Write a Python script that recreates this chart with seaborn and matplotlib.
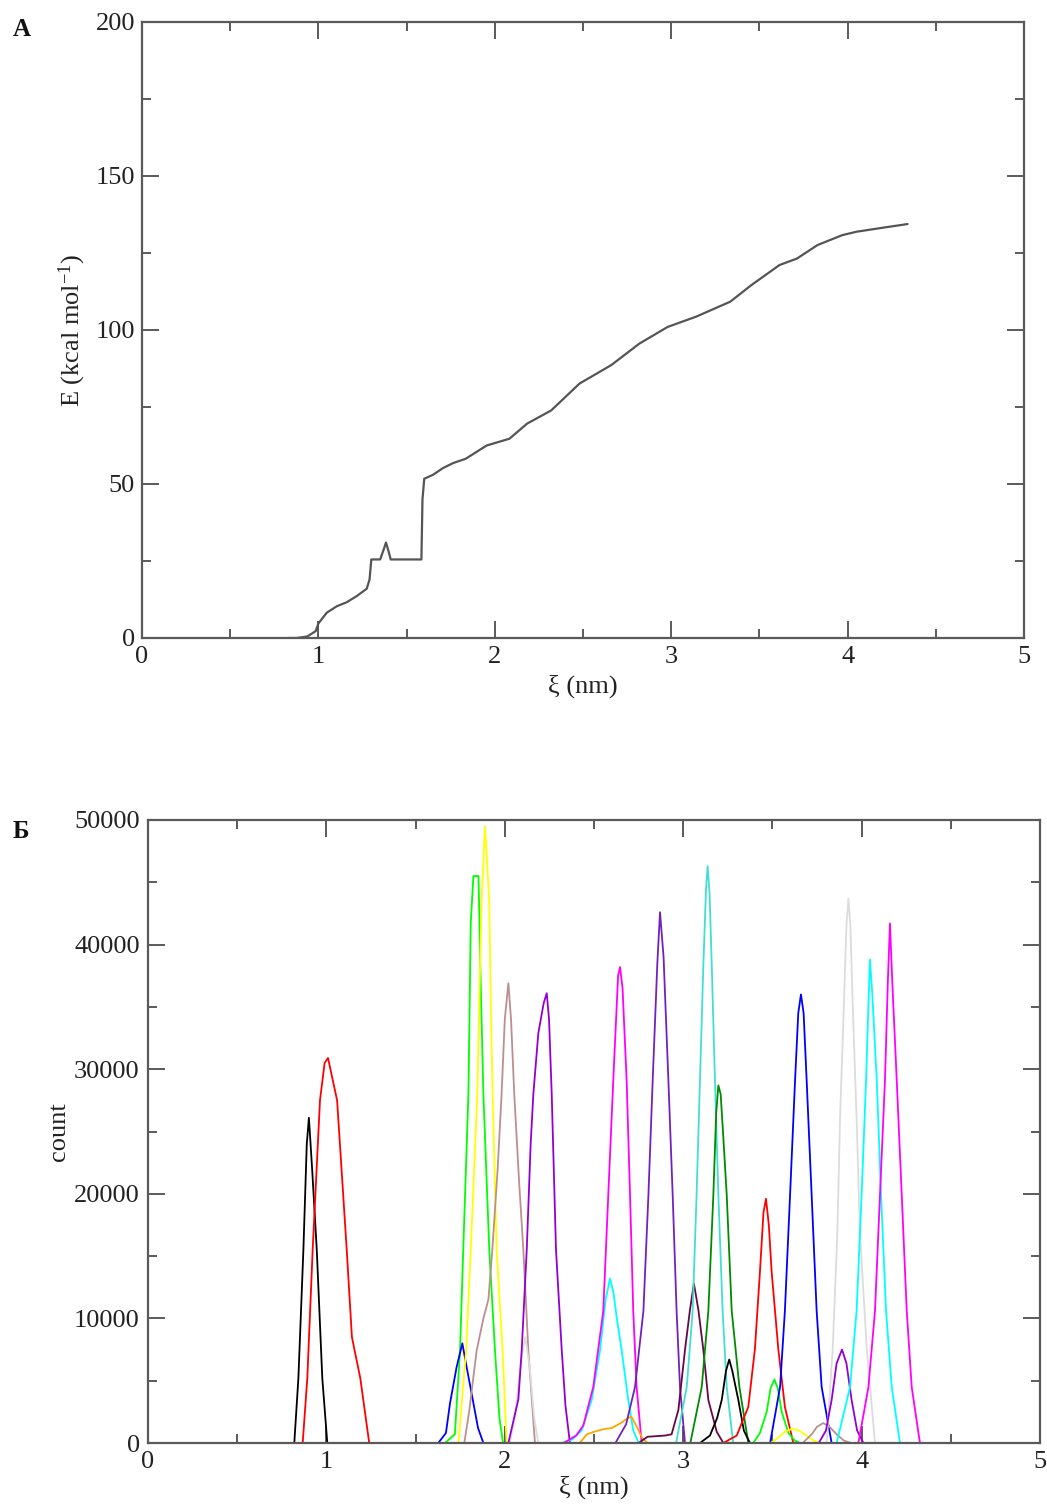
import matplotlib
matplotlib.use("Agg")
import matplotlib.pyplot as plt
import seaborn as sns
import pandas as pd
from matplotlib.ticker import MultipleLocator

# ---------------- Panel A: energy profile ----------------
xi_A = [0.83, 0.877, 0.937, 0.984, 1.0, 1.047, 1.104, 1.16, 1.217, 1.274, 1.29, 1.30,
        1.35, 1.37, 1.383, 1.395, 1.41, 1.584, 1.59, 1.60, 1.65, 1.707, 1.764, 1.835,
        1.954, 2.083, 2.183, 2.32, 2.48, 2.66, 2.82, 2.98, 3.14, 3.335, 3.455, 3.614,
        3.713, 3.83, 3.97, 4.05, 4.21, 4.34]
E_A = [0, 0, 0.5, 2.2, 4.7, 8.2, 10.3, 11.6, 13.6, 16, 19, 25.5,
       25.5, 28.7, 31, 28.7, 25.5, 25.5, 45, 51.7, 53, 55.2, 56.8, 58.2,
       62.5, 64.7, 69.6, 73.9, 82.6, 88.6, 95.6, 101, 104.3, 109.2, 114.6, 121.1,
       123.2, 127.6, 130.8, 131.9, 133.3, 134.4]

# ---------------- Panel B: umbrella histograms ----------------
black1_xi = [0.82, 0.843, 0.871, 0.89, 0.902, 0.92, 0.946, 0.977, 1.005]
black1_n = [0, 5200, 15500, 24000, 26100, 22000, 15500, 5200, 0]
red1_xi = [0.867, 0.893, 0.923, 0.964, 0.99, 1.009, 1.03, 1.06, 1.114, 1.143, 1.17, 1.19, 1.24]
red1_n = [0, 5200, 15500, 27500, 30500, 30900, 29500, 27500, 15500, 8500, 6600, 5200, 0]
green1_xi = [1.665, 1.72, 1.749, 1.767, 1.796, 1.801, 1.809, 1.824, 1.852, 1.858, 1.862,
             1.88, 1.913, 1.945, 1.97, 1.99]
green1_n = [0, 700, 7400, 15500, 28000, 33000, 41700, 45500, 45500, 42000, 38700,
            28000, 15500, 7400, 2000, 0]
blue1_xi = [1.627, 1.67, 1.693, 1.73, 1.762, 1.786, 1.824, 1.85, 1.88]
blue1_n = [0, 800, 3200, 6100, 8000, 6100, 3200, 1200, 0]
yellow1_xi = [1.74, 1.783, 1.809, 1.846, 1.857, 1.87, 1.889, 1.913, 1.921, 1.932, 1.954, 1.988, 2.01]
yellow1_n = [0, 7400, 15500, 28000, 35500, 43500, 49500, 43500, 35500, 28000, 15500, 7400, 0]
brown1_xi = [1.773, 1.80, 1.842, 1.88, 1.908, 1.93, 1.96, 1.982, 2.0, 2.02, 2.035,
             2.053, 2.08, 2.104, 2.132, 2.169]
brown1_n = [0, 2500, 7400, 10000, 11500, 15500, 22000, 28000, 34000, 36900, 34000,
            28000, 21000, 15500, 7400, 0]
grey1_xi = [2.029, 2.06, 2.09, 2.115, 2.14, 2.165, 2.188]
grey1_n = [0, 2500, 6500, 8500, 6000, 2000, 0]
violet1_xi = [2.02, 2.076, 2.095, 2.123, 2.145, 2.16, 2.188, 2.218, 2.235, 2.248, 2.263,
              2.287, 2.319, 2.34, 2.365]
violet1_n = [0, 3500, 7500, 15500, 24000, 28000, 32900, 35300, 36100, 34000, 28000,
             15500, 7500, 3000, 0]
cyan1_xi = [2.32, 2.38, 2.431, 2.487, 2.534, 2.565, 2.59, 2.61, 2.627, 2.655, 2.692, 2.72, 2.75]
cyan1_n = [0, 300, 1000, 3450, 7460, 11500, 13200, 12000, 10100, 7460, 3450, 1000, 0]
magenta1_xi = [2.33, 2.40, 2.44, 2.496, 2.552, 2.58, 2.608, 2.635, 2.646, 2.66, 2.683,
               2.702, 2.72, 2.739, 2.767]
magenta1_n = [0, 600, 1400, 4500, 10600, 19900, 29100, 37500, 38200, 36500, 29100,
              19900, 10600, 4500, 0]
orange1_xi = [2.42, 2.46, 2.50, 2.55, 2.60, 2.65, 2.69, 2.71, 2.74, 2.77, 2.80]
orange1_n = [0, 700, 900, 1100, 1200, 1600, 2000, 2100, 1300, 400, 0]
indigo1_xi = [2.62, 2.68, 2.73, 2.777, 2.805, 2.829, 2.855, 2.87, 2.89, 2.917, 2.941,
              2.963, 2.982, 3.01]
indigo1_n = [0, 1500, 4500, 10600, 19900, 29100, 38500, 42600, 39000, 29100, 19900,
             10600, 4500, 0]
maroon1_xi = [2.75, 2.80, 2.90, 2.935, 2.973, 3.01, 3.038, 3.06, 3.085, 3.113, 3.141, 3.188, 3.225]
maroon1_n = [0, 500, 600, 700, 2650, 7460, 10700, 12800, 10700, 7460, 3450, 900, 0]
turq1_xi = [2.96, 3.02, 3.053, 3.075, 3.094, 3.113, 3.128, 3.137, 3.148, 3.16, 3.178,
            3.197, 3.221, 3.244, 3.28]
turq1_n = [0, 4500, 10600, 19900, 29100, 38400, 44500, 46300, 44000, 38400, 29100,
           19900, 10600, 4500, 0]
green4_xi = [3.04, 3.104, 3.141, 3.169, 3.185, 3.197, 3.21, 3.225, 3.244, 3.272, 3.315, 3.365]
green4_n = [0, 4500, 10600, 19900, 26500, 28700, 28000, 24500, 19900, 10600, 4500, 0]
black2_xi = [3.094, 3.15, 3.19, 3.216, 3.24, 3.258, 3.275, 3.309, 3.34, 3.374]
black2_n = [0, 600, 2000, 3450, 5800, 6700, 5800, 3450, 1000, 0]
red2_xi = [3.225, 3.30, 3.365, 3.402, 3.43, 3.45, 3.464, 3.48, 3.496, 3.533, 3.57, 3.617]
red2_n = [0, 600, 2900, 7550, 13700, 18500, 19600, 17500, 13700, 7550, 2900, 0]
green2_xi = [3.393, 3.43, 3.468, 3.49, 3.511, 3.53, 3.552, 3.59, 3.625, 3.655]
green2_n = [0, 800, 2500, 4400, 5100, 4400, 2500, 800, 200, 0]
blue2_xi = [3.487, 3.543, 3.57, 3.599, 3.627, 3.645, 3.66, 3.675, 3.692, 3.72, 3.748, 3.776, 3.832]
blue2_n = [0, 4500, 10600, 19900, 29100, 34500, 36000, 34500, 29100, 19900, 10600, 4500, 0]
yellow2_xi = [3.49, 3.53, 3.57, 3.61, 3.65, 3.69, 3.73, 3.77]
yellow2_n = [0, 400, 900, 1150, 1000, 600, 200, 0]
brown2_xi = [3.67, 3.72, 3.75, 3.785, 3.82, 3.86, 3.90, 3.94]
brown2_n = [0, 700, 1300, 1600, 1300, 700, 200, 0]
grey2_xi = [3.804, 3.838, 3.864, 3.879, 3.901, 3.915, 3.926, 3.937, 3.95, 3.972, 3.991, 4.029, 4.075]
grey2_n = [0, 7550, 16800, 26000, 35300, 41500, 43700, 41500, 35300, 26000, 16800, 7550, 0]
violet2_xi = [3.76, 3.80, 3.832, 3.86, 3.89, 3.915, 3.944, 3.975, 4.01]
violet2_n = [0, 1000, 3450, 6400, 7500, 6400, 3450, 1000, 0]
cyan2_xi = [3.86, 3.935, 3.972, 4.0, 4.025, 4.04, 4.047, 4.06, 4.085, 4.109, 4.137, 4.169, 4.215]
cyan2_n = [0, 4470, 10600, 19900, 29100, 36000, 38800, 36000, 29100, 19900, 10600, 4470, 0]
magenta2_xi = [3.982, 4.038, 4.075, 4.103, 4.131, 4.147, 4.159, 4.172, 4.197, 4.225,
               4.253, 4.281, 4.327]
magenta2_n = [0, 4470, 10600, 19900, 29100, 37000, 41700, 37000, 29100, 19900, 10600, 4470, 0]

series_names = ["black 1", "red 1", "green 1", "blue 1", "yellow 1", "brown 1", "grey 1",
                "violet 1", "cyan 1", "magenta 1", "orange 1", "indigo 1", "maroon 1",
                "turquoise 1", "green4 1", "black 2", "red 2", "green 2", "blue 2",
                "yellow 2", "brown 2", "grey 2", "violet 2", "cyan 2", "magenta 2"]
series_xi = [black1_xi, red1_xi, green1_xi, blue1_xi, yellow1_xi, brown1_xi, grey1_xi,
             violet1_xi, cyan1_xi, magenta1_xi, orange1_xi, indigo1_xi, maroon1_xi,
             turq1_xi, green4_xi, black2_xi, red2_xi, green2_xi, blue2_xi,
             yellow2_xi, brown2_xi, grey2_xi, violet2_xi, cyan2_xi, magenta2_xi]
series_n = [black1_n, red1_n, green1_n, blue1_n, yellow1_n, brown1_n, grey1_n,
            violet1_n, cyan1_n, magenta1_n, orange1_n, indigo1_n, maroon1_n,
            turq1_n, green4_n, black2_n, red2_n, green2_n, blue2_n,
            yellow2_n, brown2_n, grey2_n, violet2_n, cyan2_n, magenta2_n]
series_colors = ["#000000", "#ff0000", "#00ff00", "#0000ff", "#ffff00", "#bc8f8f", "#dcdcdc",
                 "#9400d3", "#00ffff", "#ff00ff", "#ffa500", "#7221bc", "#670748",
                 "#40e0d0", "#008b00", "#000000", "#ff0000", "#00ff00", "#0000ff",
                 "#ffff00", "#bc8f8f", "#dcdcdc", "#9400d3", "#00ffff", "#ff00ff"]

# ---------------- styling ----------------
sns.set_theme(style="ticks")
plt.rcParams["font.family"] = ["Liberation Serif", "DejaVu Serif"]
plt.rcParams["mathtext.default"] = "regular"

FRAME = "#5a5a5a"
FS = 19

fig = plt.figure(figsize=(10.47, 15.04), dpi=100)
axA = fig.add_axes([142 / 1047, 1 - 638 / 1504, 882 / 1047, 616 / 1504])
axB = fig.add_axes([148 / 1047, 1 - 1443 / 1504, 892 / 1047, 623 / 1504])

dfA = pd.DataFrame({"xi": xi_A, "E": E_A})
sns.lineplot(data=dfA, x="xi", y="E", ax=axA, color="#555555", linewidth=1.6,
             sort=False, estimator=None)

frames = []
for name, xs, ns in zip(series_names, series_xi, series_n):
    frames.append(pd.DataFrame({"xi": xs, "count": ns, "series": name}))
dfB = pd.concat(frames, ignore_index=True)
palette = dict(zip(series_names, series_colors))
sns.lineplot(data=dfB, x="xi", y="count", hue="series", hue_order=series_names,
             palette=palette, ax=axB, linewidth=1.3, sort=False, estimator=None,
             legend=False)


def style_axis(ax, ymax, ymajor, yminor, ypad):
    ax.set_xlim(0, 5)
    ax.set_ylim(0, ymax)
    ax.xaxis.set_major_locator(MultipleLocator(1))
    ax.xaxis.set_minor_locator(MultipleLocator(0.5))
    ax.yaxis.set_major_locator(MultipleLocator(ymajor))
    ax.yaxis.set_minor_locator(MultipleLocator(yminor))
    ax.tick_params(which="both", direction="in", top=True, right=True,
                   color=FRAME, width=1.4, labelsize=FS, labelcolor="#222222")
    ax.tick_params(which="major", length=12)
    ax.tick_params(which="minor", length=6.5)
    ax.tick_params(axis="x", which="both", pad=6)
    ax.tick_params(axis="y", which="both", pad=ypad)
    for sp in ax.spines.values():
        sp.set_color(FRAME)
        sp.set_linewidth(1.6)
        sp.set_visible(True)


style_axis(axA, 200, 50, 25, 5)
style_axis(axB, 50000, 10000, 5000, 6)

axA.set_xlabel("ξ (nm)", fontsize=FS, color="#222222")
axA.set_ylabel("E (kcal mol$^{-1}$)", fontsize=FS, color="#222222")
axA.xaxis.set_label_coords(0.5, -0.06)
axA.yaxis.set_label_coords(-0.061, 0.5)

axB.set_xlabel("ξ (nm)", fontsize=FS, color="#222222")
axB.set_ylabel("count", fontsize=FS, color="#222222")
axB.xaxis.set_label_coords(0.5, -0.053)
axB.yaxis.set_label_coords(-0.087, 0.5)

fig.text(22 / 1047, 1 - 30 / 1504, "А", fontsize=18, fontweight="bold",
         ha="center", va="center", color="#111111")
fig.text(21 / 1047, 1 - 832 / 1504, "Б", fontsize=18, fontweight="bold",
         ha="center", va="center", color="#111111")

fig.savefig("out.png", dpi=100)
